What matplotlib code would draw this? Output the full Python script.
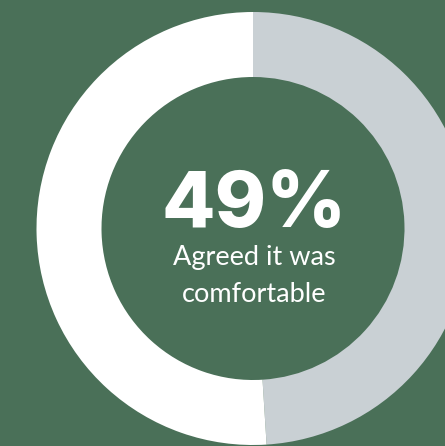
import matplotlib
matplotlib.use("Agg")
import matplotlib.pyplot as plt

# Share of respondents
labels = ["Agreed it was comfortable", "Other"]
values = [49, 51]
headline = "49%"
caption_lines = ["Agreed it was", "comfortable"]

BG = "#4a7058"
GRAY = "#c9d0d4"
WHITE = "#ffffff"

W, H = 445, 446
fig = plt.figure(figsize=(W / 100, H / 100), dpi=100, facecolor=BG)
ax = fig.add_axes([0, 0, 1, 1])
ax.set_facecolor(BG)
ax.set_aspect("equal")
ax.axis("off")

# Ring, drawn in pixel-sized data units
cx, cy = 253, H - 228.5
r_out, r_in = 216.5, 151.5
ax.pie(values, colors=[GRAY, WHITE], startangle=90, counterclock=False,
       center=(cx, cy), radius=r_out,
       wedgeprops=dict(width=r_out - r_in, linewidth=0))
ax.set_xlim(0, W)
ax.set_ylim(0, H)

tx = 254.5
ax.text(tx, H - 227, headline, ha="center", va="baseline", color=WHITE,
        fontsize=56, fontweight="heavy", family="Inter")
ax.text(tx, H - 265.5, caption_lines[0], ha="center", va="baseline", color=WHITE,
        fontsize=19.5, family="Lato")
ax.text(tx, H - 302.5, caption_lines[1], ha="center", va="baseline", color=WHITE,
        fontsize=19.5, family="Lato")

fig.savefig("out.png", dpi=100, facecolor=BG)
